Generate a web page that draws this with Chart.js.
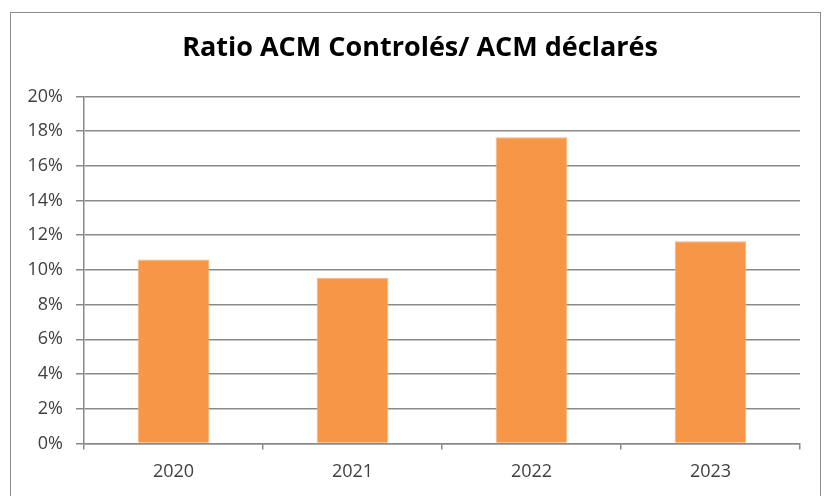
<!DOCTYPE html>
<html>
<head>
<meta charset="utf-8">
<script src="https://cdn.jsdelivr.net/npm/chart.js@4"></script>
<style>
    html, body { margin: 0; padding: 0; background: #fff; overflow: hidden; }
    #frame {
        position: absolute; left: 10px; top: 12px;
        width: 811px; height: 520px;
        border: 1px solid #8c8c8c; box-sizing: border-box;
    }
    #wrap { position: absolute; left: 0; top: 0; width: 829px; height: 496px; }
</style>
</head>
<body>
<div id="frame"></div>
<div id="wrap"><canvas id="ratioChart" width="829" height="496"></canvas></div>
<script>
// RATIO CHART DATA
const years = ["2020", "2021", "2022", "2023"];
const ratios = [10.6, 9.55, 17.65, 11.65];
const yTicks = [0, 2, 4, 6, 8, 10, 12, 14, 16, 18, 20];

const gridGray = "#8a8a8a";
const labelGray = "#404040";

// nudge the title to the right, the original is centred on the frame
const titleShift = {
    id: "titleShift",
    afterLayout(chart) {
        const t = chart.titleBlock;
        if (t) { t.left += 20; t.right += 20; }
    }
};

// CREATE CHART
new Chart(document.getElementById("ratioChart"), {
    type: "bar",
    data: {
        labels: years,
        datasets: [{
            label: "Ratio",
            data: ratios,
            backgroundColor: "#F79646",
            borderColor: "#F9B07A",
            borderWidth: 1,
            categoryPercentage: 0.4,
            barPercentage: 1
        }]
    },
    options: {
        responsive: false,
        animation: false,
        layout: {
            padding: { left: 0, right: 29, top: 0, bottom: 1 }
        },
        plugins: {
            legend: { display: false },
            tooltip: { enabled: false },
            title: {
                display: true,
                text: "Ratio ACM Controlés/ ACM déclarés",
                color: "#000",
                font: { family: "Open Sans", size: 27, weight: "bold" },
                padding: { top: 32, bottom: 32 }
            }
        },
        scales: {
            y: {
                min: yTicks[0],
                max: yTicks[yTicks.length - 1],
                afterFit: scale => { scale.width = 84; },
                afterBuildTicks: scale => {
                    scale.ticks = yTicks.map(v => ({ value: v }));
                },
                ticks: {
                    color: labelGray,
                    padding: 13,
                    font: { family: "Open Sans", size: 18 },
                    callback: v => v + "%"
                },
                grid: {
                    color: gridGray,
                    lineWidth: 1.5,
                    tickLength: 8
                },
                border: { color: gridGray, width: 1.5 }
            },
            x: {
                offset: true,
                ticks: {
                    color: labelGray,
                    padding: 12,
                    font: { family: "Open Sans", size: 18 }
                },
                grid: {
                    offset: true,
                    drawOnChartArea: false,
                    color: gridGray,
                    lineWidth: 1.5,
                    tickLength: 6
                },
                border: { color: gridGray, width: 1.5 }
            }
        }
    },
    plugins: [titleShift]
});
</script>
</body>
</html>
